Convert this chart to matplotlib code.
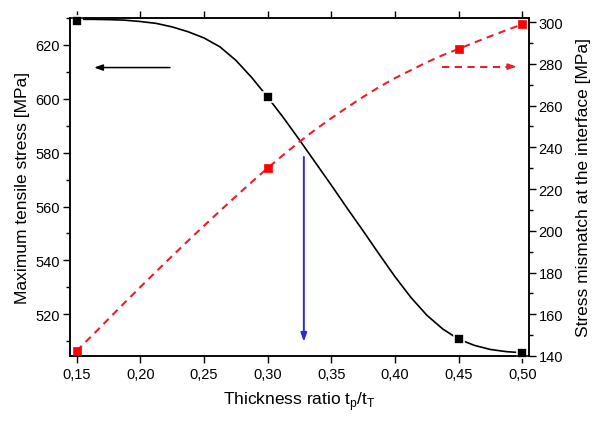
import numpy as np
import matplotlib
matplotlib.use('Agg')
import matplotlib.pyplot as plt
from matplotlib.ticker import FuncFormatter, MultipleLocator

# data
ratio = [0.15, 0.30, 0.45, 0.50]
tensile = [628.9, 600.6, 510.7, 505.7]        # MPa, left axis
mismatch = [142.4, 230.1, 287.2, 299.0]       # MPa, right axis

# smooth curves
curveX = [0.15, 0.1625, 0.175, 0.1875, 0.20, 0.2125, 0.225, 0.2375, 0.25,
          0.2625, 0.275, 0.2875, 0.30, 0.3125, 0.325, 0.3375, 0.35, 0.3625,
          0.375, 0.3875, 0.40, 0.4125, 0.425, 0.4375, 0.45, 0.4625, 0.475,
          0.4875, 0.50]
tensileCurve = [629.5, 629.5, 629.4, 629.2, 628.7, 628.0, 626.7, 624.9, 622.6,
                619.3, 614.3, 607.9, 600.6, 592.9, 584.7, 576.3, 567.9, 559.3,
                550.9, 542.3, 533.9, 526.2, 519.6, 514.5, 510.7, 508.4, 506.9,
                506.1, 505.7]
mismatchCurve = [142.4, 150.0, 157.7, 165.4, 173.0, 180.5, 187.9, 195.2, 202.4,
                 209.5, 216.5, 223.4, 230.1, 236.5, 242.7, 248.5, 254.0, 259.2,
                 264.2, 268.9, 273.2, 277.0, 280.8, 284.2, 287.2, 290.3, 293.3,
                 296.2, 299.0]

# annotation arrows (tail, tip)
blackArrow = ((0.2233, 611.6), (0.1638, 611.6))
redArrow = ((0.4365, 278.7), (0.4954, 278.7))
blueArrow = ((0.3284, 578.4), (0.3284, 509.8))

plt.rcParams['font.family'] = ['Liberation Sans', 'DejaVu Sans']
plt.rcParams['mathtext.fontset'] = 'custom'
plt.rcParams['mathtext.rm'] = 'Liberation Sans'

fig = plt.figure(figsize=(6.03, 4.27), dpi=100)
ax = fig.add_axes([0.116, 0.164, 0.761, 0.7915])
ax2 = ax.twinx()

#Left axis: maximum tensile stress
ax.plot(curveX, tensileCurve, color='black', lw=1.2, zorder=2)
ax.plot(ratio, tensile, 's', color='black', ms=7.2, mec='white', mew=1.2,
        clip_on=False, zorder=3)

#Right axis: stress mismatch
redCol = '#e8202a'
ax2.plot(curveX, mismatchCurve, color=redCol, lw=1.5, dashes=(3.5, 2.6), zorder=2)
ax2.plot(ratio, mismatch, 's', color='#ff0000', ms=6.3, mec='#ff0000', mew=0.5,
         clip_on=False, zorder=3)

#Arrows
ax.annotate('', xy=blackArrow[1], xytext=blackArrow[0],
            arrowprops=dict(arrowstyle='-|>,head_length=0.5,head_width=0.18',
                            color='black', lw=1.1, shrinkA=0, shrinkB=0))
ax.annotate('', xy=blueArrow[1], xytext=blueArrow[0],
            arrowprops=dict(arrowstyle='-|>,head_length=0.5,head_width=0.18',
                            color='#2b2bd0', lw=1.4, shrinkA=0, shrinkB=0))
ax2.plot([redArrow[0][0], redArrow[1][0] - 0.006], [redArrow[0][1], redArrow[1][1]],
         color=redCol, lw=1.5, dashes=(3.5, 2.6))
ax2.annotate('', xy=redArrow[1], xytext=(redArrow[1][0] - 0.008, redArrow[1][1]),
             arrowprops=dict(arrowstyle='-|>,head_length=0.5,head_width=0.18',
                             color=redCol, lw=1.2, shrinkA=0, shrinkB=0))

#Limits and ticks
ax.set_xlim(0.1448, 0.505)
ax.set_ylim(504.5, 630.0)
ax2.set_ylim(140.0, 302.0)

ax.xaxis.set_major_locator(MultipleLocator(0.05))
ax.xaxis.set_major_formatter(FuncFormatter(lambda v, p: f'{v:.2f}'.replace('.', ',')))
ax.yaxis.set_major_locator(MultipleLocator(20))
ax.yaxis.set_minor_locator(MultipleLocator(10))
ax2.yaxis.set_major_locator(MultipleLocator(20))
ax2.yaxis.set_minor_locator(MultipleLocator(10))

ax.tick_params(axis='x', which='major', direction='out', top=True, length=5,
               width=1, labelsize=10.5, pad=3)
ax.tick_params(axis='y', which='major', direction='out', length=5, width=1,
               labelsize=10.5, pad=2)
ax.tick_params(axis='y', which='minor', direction='out', length=3, width=1)
ax2.tick_params(axis='y', which='major', direction='out', length=5, width=1,
                labelsize=10.5, pad=2)
ax2.tick_params(axis='y', which='minor', direction='out', length=3, width=1)

for a in (ax, ax2):
    for s in a.spines.values():
        s.set_linewidth(1.1)

ax.set_xlabel('Thickness ratio t$_\\mathrm{p}$/t$_\\mathrm{T}$', fontsize=12.5, labelpad=6)
ax.set_ylabel('Maximum tensile stress [MPa]', fontsize=12.5, labelpad=4)
ax2.set_ylabel('Stress mismatch at the interface [MPa]', fontsize=12.5, labelpad=9)

fig.savefig('out.png', dpi=100)
